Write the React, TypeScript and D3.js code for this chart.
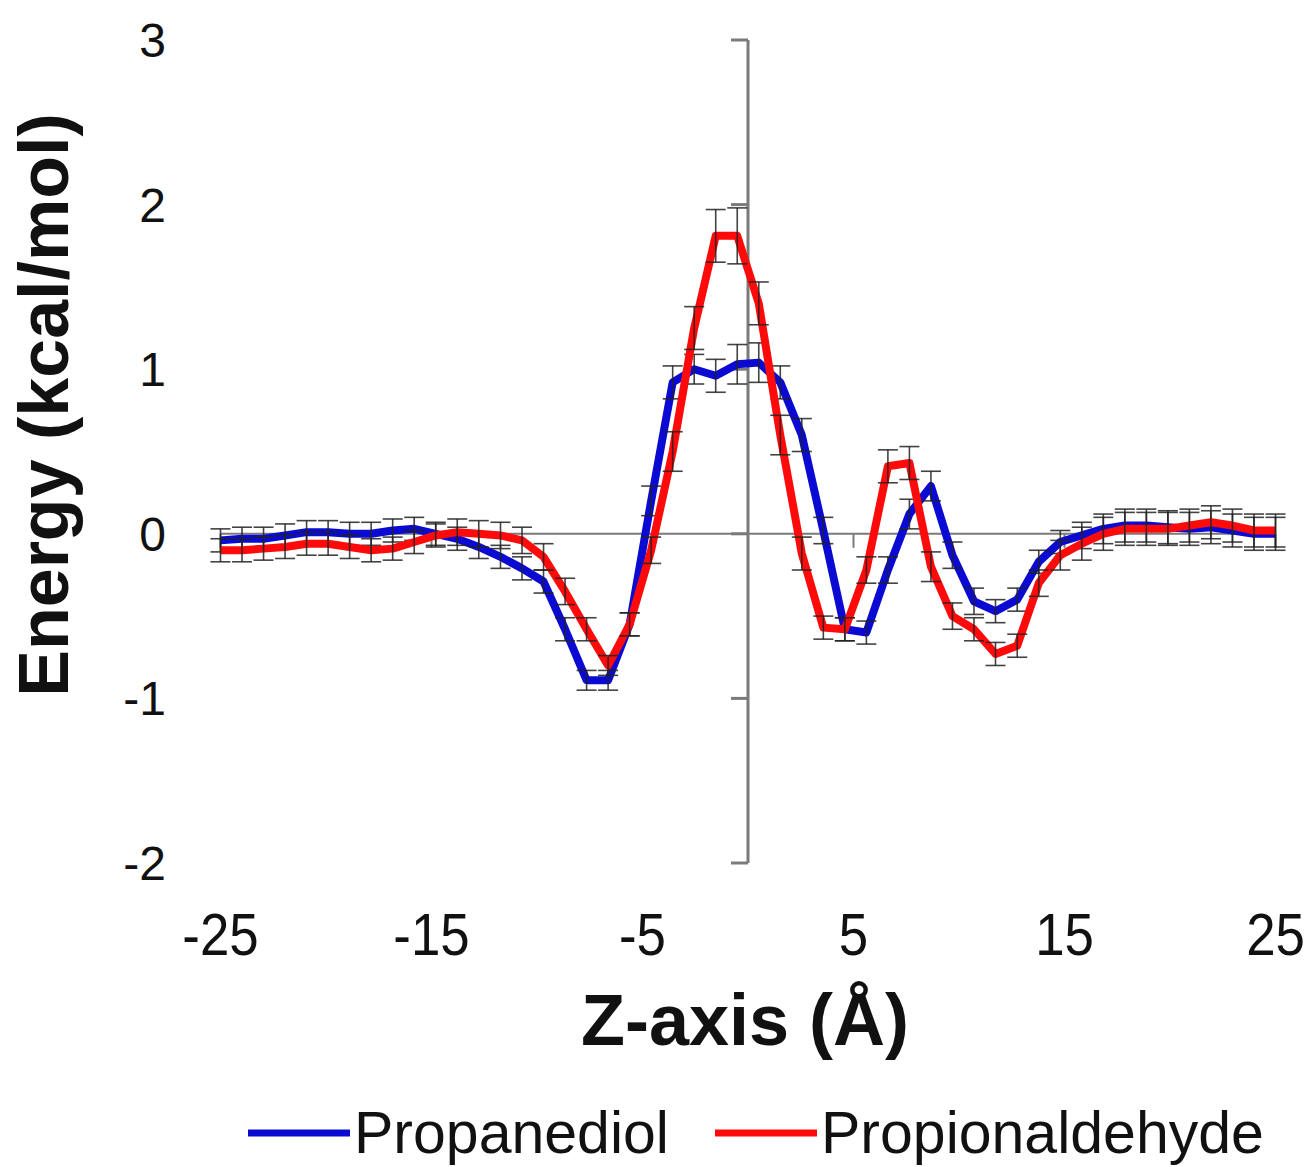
import React, { useEffect, useRef } from 'react';
import * as d3 from 'd3';

// z positions of the samples (Å), 50 evenly spaced bins from -25 to 25
const zValues = [
  -25.0, -23.98, -22.96, -21.94, -20.92, -19.9, -18.88, -17.86, -16.84, -15.82,
  -14.8, -13.78, -12.76, -11.73, -10.71, -9.69, -8.67, -7.65, -6.63, -5.61,
  -4.59, -3.57, -2.55, -1.53, -0.51, 0.51, 1.53, 2.55, 3.57, 4.59,
  5.61, 6.63, 7.65, 8.67, 9.69, 10.71, 11.73, 12.76, 13.78, 14.8,
  15.82, 16.84, 17.86, 18.88, 19.9, 20.92, 21.94, 22.96, 23.98, 25.0,
];

const propanediol = [
  -0.04, -0.03, -0.03, -0.01, 0.01, 0.01, 0.0, 0.0, 0.02, 0.03,
  0.0, -0.03, -0.08, -0.14, -0.21, -0.29, -0.58, -0.89, -0.89, -0.55,
  0.2, 0.92, 1.0, 0.96, 1.03, 1.04, 0.92, 0.6, 0.02, -0.58,
  -0.6, -0.22, 0.12, 0.29, -0.13, -0.41, -0.47, -0.4, -0.17, -0.05,
  -0.01, 0.03, 0.05, 0.05, 0.04, 0.03, 0.04, 0.02, 0.0, 0.0,
];
const propanediolErr = [
  0.07, 0.07, 0.07, 0.07, 0.07, 0.07, 0.07, 0.07, 0.07, 0.07,
  0.07, 0.07, 0.07, 0.07, 0.07, 0.07, 0.07, 0.06, 0.06, 0.07,
  0.09, 0.1, 0.09, 0.1, 0.12, 0.12, 0.1, 0.1, 0.08, 0.07,
  0.07, 0.08, 0.09, 0.09, 0.08, 0.08, 0.07, 0.07, 0.07, 0.07,
  0.08, 0.09, 0.1, 0.1, 0.1, 0.1, 0.1, 0.1, 0.1, 0.1,
];

const propionaldehyde = [
  -0.1, -0.1, -0.09, -0.08, -0.06, -0.06, -0.08, -0.1, -0.09, -0.05,
  -0.01, 0.01, 0.0, -0.01, -0.04, -0.14, -0.35, -0.58, -0.8, -0.55,
  -0.1, 0.5, 1.25, 1.81, 1.81, 1.4, 0.6, -0.12, -0.57, -0.58,
  -0.22, 0.41, 0.43, -0.2, -0.5, -0.58, -0.73, -0.68, -0.3, -0.13,
  -0.06, 0.0, 0.03, 0.03, 0.03, 0.05, 0.07, 0.05, 0.02, 0.02,
];
const propionaldehydeErr = [
  0.07, 0.07, 0.07, 0.07, 0.07, 0.07, 0.07, 0.07, 0.07, 0.07,
  0.07, 0.08, 0.08, 0.08, 0.08, 0.08, 0.08, 0.07, 0.06, 0.07,
  0.08, 0.12, 0.13, 0.16, 0.17, 0.13, 0.12, 0.1, 0.07, 0.07,
  0.08, 0.1, 0.1, 0.09, 0.08, 0.07, 0.07, 0.07, 0.08, 0.09,
  0.1, 0.1, 0.1, 0.1, 0.1, 0.1, 0.1, 0.1, 0.1, 0.1,
];

const yTicks = [-2, -1, 0, 1, 2, 3];
const xTicks = [-25, -15, -5, 5, 15, 25];

const seriesList = [
  { name: 'Propanediol', values: propanediol, errors: propanediolErr, color: '#0a0ad2' },
  { name: 'Propionaldehyde', values: propionaldehyde, errors: propionaldehydeErr, color: '#ff0a0a' },
];

const W = 1314;
const H = 1167;
const FONT = '"Liberation Sans", Arial, sans-serif';

const App = () => {
  const svgRef = useRef(null);

  useEffect(() => {
    document.body.style.margin = '0';
    const svg = d3.select(svgRef.current);
    svg.selectAll('*').remove();

    const x = d3.scaleLinear().domain([-25, 25]).range([220.5, 1275.5]);
    const y = d3.scaleLinear().domain([-2, 3]).range([863, 40]);

    const g = svg.append('g');

    // x axis line at y = 0
    g.append('line')
      .attr('x1', x(-25)).attr('x2', x(25))
      .attr('y1', y(0)).attr('y2', y(0))
      .attr('stroke', '#7a7a7a').attr('stroke-width', 2);
    g.selectAll('.xtick')
      .data(xTicks)
      .join('line')
      .attr('class', 'xtick')
      .attr('x1', d => x(d)).attr('x2', d => x(d))
      .attr('y1', y(0)).attr('y2', y(0) + 14)
      .attr('stroke', '#7a7a7a').attr('stroke-width', 2);

    // y axis line at z = 0
    g.append('line')
      .attr('x1', x(0)).attr('x2', x(0))
      .attr('y1', y(3)).attr('y2', y(-2))
      .attr('stroke', '#7a7a7a').attr('stroke-width', 3);
    g.selectAll('.ytick')
      .data(yTicks)
      .join('line')
      .attr('class', 'ytick')
      .attr('x1', x(0) - 17).attr('x2', x(0))
      .attr('y1', d => y(d)).attr('y2', d => y(d))
      .attr('stroke', '#7a7a7a').attr('stroke-width', 3);

    // series: line then its error bars
    const line = d3.line<number>()
      .x((_, i) => x(zValues[i]))
      .y(d => y(d));

    seriesList.forEach(s => {
      g.append('path')
        .datum(s.values)
        .attr('d', line)
        .attr('fill', 'none')
        .attr('stroke', s.color)
        .attr('stroke-width', 8)
        .attr('stroke-linejoin', 'round');

      const bars = g.append('g')
        .attr('stroke', '#222')
        .attr('stroke-width', 1.6)
        .attr('stroke-opacity', 0.85);
      s.values.forEach((v, i) => {
        const cx = x(zValues[i]);
        const top = y(v + s.errors[i]);
        const bot = y(v - s.errors[i]);
        bars.append('line').attr('x1', cx).attr('x2', cx).attr('y1', top).attr('y2', bot);
        bars.append('line').attr('x1', cx - 10).attr('x2', cx + 10).attr('y1', top).attr('y2', top);
        bars.append('line').attr('x1', cx - 10).attr('x2', cx + 10).attr('y1', bot).attr('y2', bot);
      });
    });

    // tick labels
    g.selectAll('.ylabel')
      .data(yTicks)
      .join('text')
      .attr('class', 'ylabel')
      .attr('x', 166)
      .attr('y', d => y(d) + 17)
      .attr('text-anchor', 'end')
      .attr('font-family', FONT)
      .attr('font-size', 48)
      .attr('fill', '#111')
      .text(d => d);

    g.selectAll('.xlabel')
      .data(xTicks)
      .join('text')
      .attr('class', 'xlabel')
      .attr('transform', d => `translate(${x(d)},955) scale(0.88,1)`)
      .attr('text-anchor', 'middle')
      .attr('font-family', FONT)
      .attr('font-size', 60)
      .attr('fill', '#111')
      .text(d => d);

    // axis titles
    g.append('text')
      .attr('transform', `translate(68,405) rotate(-90)`)
      .attr('text-anchor', 'middle')
      .attr('font-family', FONT)
      .attr('font-weight', 'bold')
      .attr('font-size', 70)
      .attr('fill', '#111')
      .text('Energy (kcal/mol)');

    g.append('text')
      .attr('x', 745)
      .attr('y', 1045)
      .attr('text-anchor', 'middle')
      .attr('font-family', FONT)
      .attr('font-weight', 'bold')
      .attr('font-size', 72)
      .attr('fill', '#111')
      .text('Z-axis (Å)');

    // legend
    const legendX = [248, 715];
    seriesList.forEach((s, i) => {
      g.append('line')
        .attr('x1', legendX[i]).attr('x2', legendX[i] + 102)
        .attr('y1', 1133).attr('y2', 1133)
        .attr('stroke', s.color).attr('stroke-width', 7);
      g.append('text')
        .attr('x', legendX[i] + 106)
        .attr('y', 1153)
        .attr('font-family', FONT)
        .attr('font-size', 59)
        .attr('fill', '#111')
        .text(s.name);
    });
  }, []);

  return <svg ref={svgRef} width={W} height={H} style={{ display: 'block', background: '#fff' }} />;
};

export default App;
